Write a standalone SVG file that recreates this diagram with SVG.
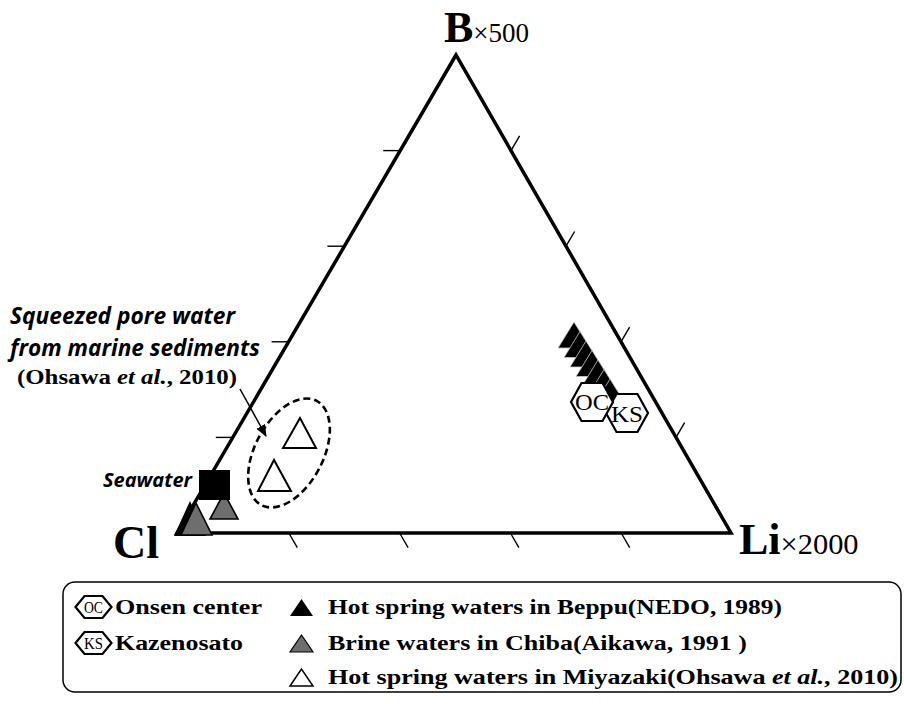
<svg xmlns="http://www.w3.org/2000/svg" width="904" height="704" viewBox="0 0 904 704">
<defs>
<style>
.edge{stroke:#000;stroke-width:3.5;fill:none;stroke-linejoin:miter}
.tick{stroke:#000;stroke-width:1.4;fill:none}
.sansbi{font-family:"Open Sans","Liberation Sans",sans-serif;font-weight:bold;font-style:italic;fill:#000}
.serifb{font-family:"Liberation Serif","Times New Roman",serif;font-weight:bold;fill:#000}
.serif{font-family:"Liberation Serif","Times New Roman",serif;fill:#000}
.hex{fill:#fff;stroke:#000;stroke-width:2.2}
.blk{fill:#000;stroke:#c8c8c8;stroke-width:0.8}
.gry{fill:#6e6e6e;stroke:#000;stroke-width:1.6}
.wht{fill:#fff;stroke:#000;stroke-width:2}
</style>
<marker id="ah" viewBox="0 0 12 10" refX="11" refY="5" markerWidth="12" markerHeight="10" markerUnits="userSpaceOnUse" orient="auto">
<path d="M0,0 L12,5 L0,10 Z" fill="#000"/>
</marker>
</defs>
<rect width="904" height="704" fill="#fff"/>

<g id="ternary-frame">
<polygon class="edge" points="456,55 177,533 731,533"/>
<g class="tick">
<line x1="232.8" y1="437.4" x2="215.8" y2="437.4"/>
<line x1="288.6" y1="341.8" x2="271.6" y2="341.8"/>
<line x1="344.4" y1="246.2" x2="327.4" y2="246.2"/>
<line x1="400.2" y1="150.6" x2="383.2" y2="150.6"/>
<line x1="676" y1="437.4" x2="684.6" y2="422.7"/>
<line x1="621" y1="341.8" x2="629.6" y2="327.1"/>
<line x1="566" y1="246.2" x2="574.6" y2="231.5"/>
<line x1="511" y1="150.6" x2="519.6" y2="135.9"/>
<line x1="288.8" y1="533" x2="297.3" y2="547.7"/>
<line x1="399.6" y1="533" x2="408.1" y2="547.7"/>
<line x1="510.4" y1="533" x2="518.9" y2="547.7"/>
<line x1="621.2" y1="533" x2="629.7" y2="547.7"/>
</g>
</g>

<g id="axis-labels">
<text class="serifb" x="444" y="42" font-size="44">B<tspan class="serif" font-weight="normal" font-size="27">×500</tspan></text>
<text class="serifb" x="113" y="558" font-size="46">Cl</text>
<text class="serifb" x="739" y="554" font-size="44">Li<tspan class="serif" font-weight="normal" font-size="29" textLength="78" lengthAdjust="spacingAndGlyphs">×2000</tspan></text>
</g>

<g id="beppu-points">
<polygon class="blk" points="574,322 558,348 590,348"/>
<polygon class="blk" points="580,331.5 564,357.5 596,357.5"/>
<polygon class="blk" points="586,341 570,367 602,367"/>
<polygon class="blk" points="592,350.5 576,376.5 608,376.5"/>
<polygon class="blk" points="598,360 582,386 614,386"/>
<polygon class="blk" points="604,369.5 588,395.5 620,395.5"/>
<polygon class="blk" points="610,379 594,405 626,405"/>
</g>

<g id="node-ks">
<polygon class="hex" points="606,413 616.5,394 637.5,394 648,413 637.5,432 616.5,432"/>
</g>
<g id="node-oc">
<polygon class="hex" points="571,402 581.5,383 602.5,383 613,402 602.5,421 581.5,421"/>
<text class="serif" x="592" y="410" font-size="24" text-anchor="middle" textLength="34" lengthAdjust="spacingAndGlyphs">OC</text>
</g>
<g id="node-ks-label">
<text class="serif" x="627" y="422" font-size="24" text-anchor="middle" textLength="32" lengthAdjust="spacingAndGlyphs">KS</text>
</g>

<g id="chiba-points">
<polygon points="224,493 210,519 238,519" class="gry"/>
<polygon points="190,501 174,536 206,536" fill="#000"/>
<polygon points="196,503 181,535 212,535" class="gry"/>
</g>

<g id="seawater">
<rect x="199" y="470" width="31" height="30" fill="#000"/>
<text class="sansbi" x="192" y="487" font-size="20" text-anchor="end">Seawater</text>
</g>

<g id="miyazaki-points">
<ellipse cx="289" cy="453" rx="34" ry="59" transform="rotate(28 289 453)" fill="none" stroke="#000" stroke-width="2.6" stroke-dasharray="7 4"/>
<polygon class="wht" points="300,418 283,448 316,448"/>
<polygon class="wht" points="274,460 258,491 291,491"/>
</g>

<g id="pore-water-note">
<text class="sansbi" x="10" y="324" font-size="23" textLength="225" lengthAdjust="spacingAndGlyphs">Squeezed pore water</text>
<text class="sansbi" x="10" y="356" font-size="23" textLength="250" lengthAdjust="spacingAndGlyphs">from marine sediments</text>
<text class="serifb" x="17" y="384" font-size="22" textLength="220" lengthAdjust="spacingAndGlyphs">(Ohsawa <tspan font-style="italic">et al.</tspan>, 2010)</text>
</g>

<g id="connectors">
<line x1="240" y1="389" x2="266" y2="436" stroke="#000" stroke-width="1.5" marker-end="url(#ah)"/>
</g>

<g id="legend">
<rect x="63" y="582" width="838" height="110" rx="12" ry="12" fill="#fff" stroke="#000" stroke-width="1.5"/>
<polygon class="hex" points="75.5,607 84.5,596 102.5,596 111.5,607 102.5,618 84.5,618"/>
<text class="serif" x="93.5" y="612.5" font-size="16" text-anchor="middle" textLength="19" lengthAdjust="spacingAndGlyphs">OC</text>
<text class="serifb" x="115" y="614" font-size="22" textLength="147" lengthAdjust="spacingAndGlyphs">Onsen center</text>
<polygon class="hex" points="75.5,643 84.5,632 102.5,632 111.5,643 102.5,654 84.5,654"/>
<text class="serif" x="93.5" y="648.5" font-size="16" text-anchor="middle" textLength="19" lengthAdjust="spacingAndGlyphs">KS</text>
<text class="serifb" x="115" y="650" font-size="22" textLength="128" lengthAdjust="spacingAndGlyphs">Kazenosato</text>
<polygon points="301.5,599 290,616 313,616" fill="#000"/>
<text class="serifb" x="328" y="614" font-size="22" textLength="454" lengthAdjust="spacingAndGlyphs">Hot spring waters in Beppu(NEDO, 1989)</text>
<polygon points="301.5,635 290,652 313,652" fill="#6e6e6e" stroke="#000" stroke-width="1.2"/>
<text class="serifb" x="328" y="650" font-size="22" textLength="419" lengthAdjust="spacingAndGlyphs">Brine waters in Chiba(Aikawa, 1991 )</text>
<polygon points="301.5,669 290,686 313,686" fill="#fff" stroke="#000" stroke-width="1.5"/>
<text class="serifb" x="328" y="684" font-size="22" textLength="570" lengthAdjust="spacingAndGlyphs">Hot spring waters in Miyazaki(Ohsawa <tspan font-style="italic">et al.</tspan>, 2010)</text>
</g>
</svg>
